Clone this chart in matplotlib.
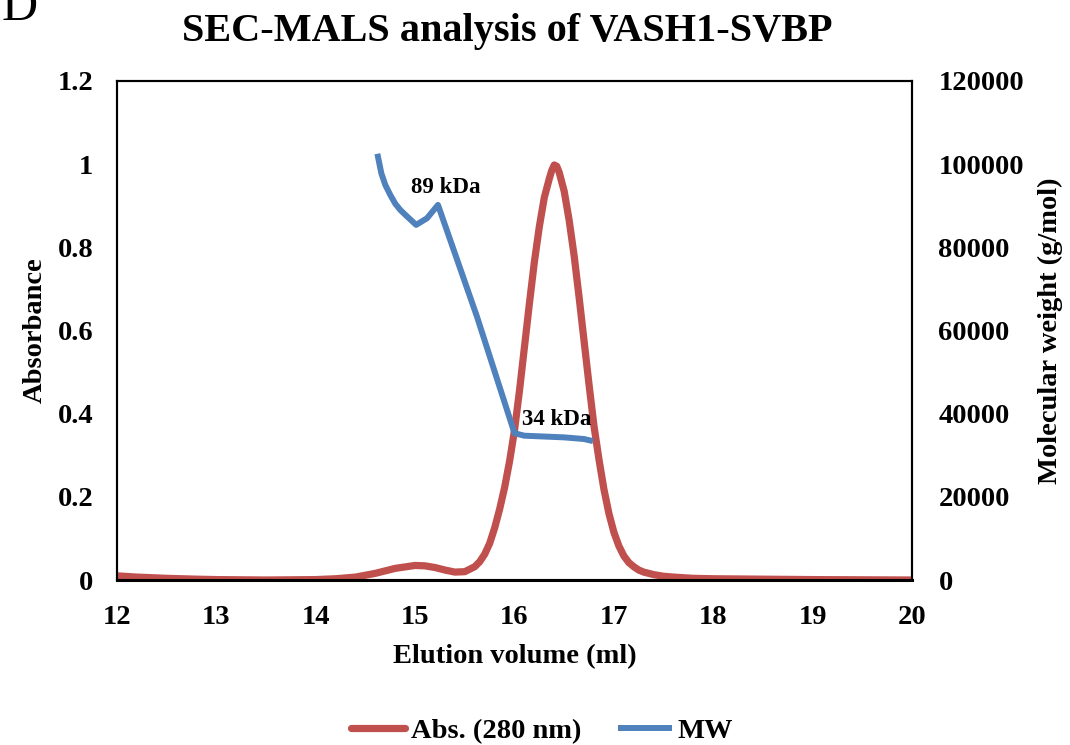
import matplotlib
matplotlib.use("Agg")
import matplotlib.pyplot as plt

# Absorbance trace at 280 nm (elution volume in ml)
abs_volume = [12.0, 12.2, 12.5, 12.8, 13.0, 13.5, 14.0, 14.2, 14.4, 14.6, 14.8,
              15.0, 15.1, 15.2, 15.3, 15.4, 15.5, 15.6, 15.65, 15.7, 15.75, 15.8,
              15.85, 15.9, 15.95, 16.0, 16.05, 16.1, 16.15, 16.2, 16.25, 16.3,
              16.35, 16.375, 16.4, 16.425, 16.45, 16.5, 16.55, 16.6, 16.65, 16.7,
              16.75, 16.8, 16.85, 16.9, 16.95, 17.0, 17.05, 17.1, 17.15, 17.2,
              17.25, 17.3, 17.4, 17.5, 17.6, 17.8, 18.0, 18.5, 19.0, 19.5, 20.0]
absorbance = [0.010, 0.007, 0.004, 0.002, 0.001, 0.000, 0.001, 0.003, 0.007, 0.016, 0.028,
              0.035, 0.034, 0.030, 0.024, 0.019, 0.020, 0.032, 0.044, 0.062, 0.088, 0.125,
              0.170, 0.222, 0.285, 0.360, 0.455, 0.560, 0.665, 0.765, 0.850, 0.920,
              0.965, 0.985, 0.998, 0.995, 0.980, 0.935, 0.865, 0.780, 0.680, 0.575,
              0.470, 0.370, 0.290, 0.218, 0.160, 0.115, 0.082, 0.058, 0.042, 0.032,
              0.024, 0.019, 0.013, 0.009, 0.007, 0.004, 0.003, 0.002, 0.001, 0.0005, 0.000]

# Molar mass from MALS (g/mol)
mw_volume = [14.62, 14.66, 14.70, 14.75, 14.80, 14.85, 14.92, 15.01, 15.12, 15.23,
             15.62, 16.00, 16.10, 16.30, 16.50, 16.70, 16.79]
mw = [102500, 97800, 95000, 92600, 90500, 89000, 87400, 85400, 87000, 90200,
      63500, 35300, 34700, 34500, 34300, 33900, 33400]

labels = ["89 kDa", "34 kDa"]
label_pos = [(15.31, 94500), (16.42, 38700)]

abs_ticks = [0, 0.2, 0.4, 0.6, 0.8, 1, 1.2]
abs_tick_labels = ["0", "0.2", "0.4", "0.6", "0.8", "1", "1.2"]
mw_ticks = [0, 20000, 40000, 60000, 80000, 100000, 120000]
vol_ticks = [12, 13, 14, 15, 16, 17, 18, 19, 20]

RED = "#C0504D"
BLUE = "#4F81BD"
FONT = "Liberation Serif"

plt.rcParams["font.family"] = FONT
plt.rcParams["font.weight"] = "bold"

W, H = 1070, 745
fig = plt.figure(figsize=(W / 100, H / 100), dpi=100)
ax = fig.add_axes([117 / W, (H - 580) / H, (912 - 117) / W, (580 - 81) / H])
ax2 = ax.twinx()

line_abs, = ax.plot(abs_volume, absorbance, color=RED, lw=5.2,
                    solid_capstyle="round", solid_joinstyle="round",
                    label="Abs. (280 nm)", zorder=3)
line_mw, = ax2.plot(mw_volume, mw, color=BLUE, lw=4.3,
                    solid_capstyle="butt", solid_joinstyle="round",
                    label="MW", zorder=3)

ax.set_xlim(12, 20)
ax.set_ylim(0, 1.2)
ax2.set_ylim(0, 120000)
ax.set_xticks(vol_ticks)
ax.set_yticks(abs_ticks)
ax.set_yticklabels(abs_tick_labels)
ax2.set_yticks(mw_ticks)
ax2.set_yticklabels([str(t) for t in mw_ticks])

tick_fs = 20.5
ax.tick_params(axis="both", length=0, labelsize=tick_fs)
ax.tick_params(axis="y", pad=17)
ax.tick_params(axis="x", pad=18)
ax2.tick_params(axis="y", length=0, labelsize=tick_fs, pad=19)

for a in (ax, ax2):
    for s in a.spines.values():
        s.set_linewidth(1.5)
        s.set_color("black")
ax.spines["bottom"].set_linewidth(2.2)

for txt, (x, y) in zip(labels, label_pos):
    ax2.text(x, y, txt, fontsize=16.5, fontweight="bold", ha="center", va="center")

label_fs = 20.5
ax.set_xlabel("Elution volume (ml)", fontsize=label_fs, fontweight="bold")
ax.xaxis.set_label_coords(0.5, -(657 - 580) / 499, transform=ax.transAxes)
ax.set_ylabel("Absorbance", fontsize=label_fs, fontweight="bold")
ax.yaxis.set_label_coords((35 - 117) / 795, 0.5, transform=ax.transAxes)
ax2.set_ylabel("Molecular weight (g/mol)", fontsize=label_fs, fontweight="bold")
ax2.yaxis.set_label_coords((1050 - 117) / 795, 0.5, transform=ax.transAxes)
ax.xaxis.label.set_va("center")
ax.yaxis.label.set_va("center")
ax2.yaxis.label.set_va("center")

fig.text(507 / W, (H - 31) / H, "SEC-MALS analysis of VASH1-SVBP",
         fontsize=29, fontweight="bold", ha="center", va="center")
fig.text(2 / W, (H - 20) / H, "D", fontsize=36, fontweight="normal",
         ha="left", va="baseline")

fig.legend(handles=[line_abs, line_mw], loc="center", bbox_to_anchor=(542 / W, (H - 731) / H),
           ncol=2, frameon=False, handlelength=1.9, handletextpad=0.2,
           columnspacing=1.3, prop={"family": FONT, "weight": "bold", "size": 20.5})

fig.savefig("out.png", dpi=100)
